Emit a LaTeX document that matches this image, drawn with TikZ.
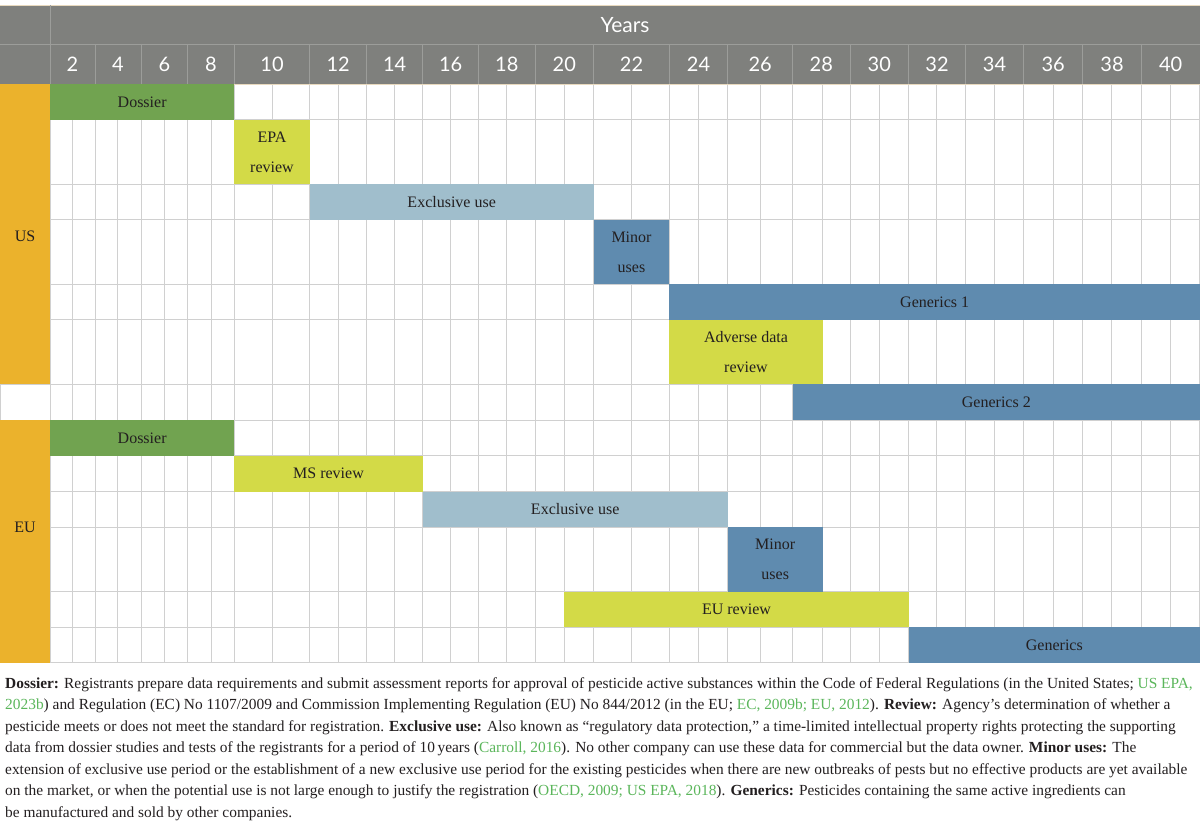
\documentclass[tikz,border=0pt]{standalone}
\usepackage{fontspec}
\setmainfont{Liberation Serif}
\newfontfamily\hdrfont{Lato}
\definecolor{hdr}{HTML}{7F807D}
\definecolor{hdrline}{HTML}{9C9D9A}
\definecolor{beige}{HTML}{E8D9BE}
\definecolor{gridc}{HTML}{D0D0D0}
\definecolor{dgreen}{HTML}{71A350}
\definecolor{ygreen}{HTML}{D3DA47}
\definecolor{lblue}{HTML}{A0BECC}
\definecolor{sblue}{HTML}{5F8BAF}
\definecolor{orng}{HTML}{EBB22C}
\definecolor{txt}{HTML}{231F20}
\definecolor{cite}{HTML}{5BB65B}
\newcommand\cit[1]{\textcolor{cite}{#1}}
\newcommand\gbar[7]{\node[bar, fill=#6, minimum width={(#4-#2)*1pt}, minimum height={(#5-#3)*1pt}] (#1) at ({(#2+#4)/2},{(#3+#5)/2}) {#7};}
\tikzset{
  bar/.style={inner sep=0pt, outer sep=0pt, align=center, text=txt, font=\rmfamily\fontsize{16}{29.5}\selectfont},
  hdrtxt/.style={inner sep=0pt, text=white, font=\hdrfont\fontsize{20}{24}\selectfont},
  foot/.style={anchor=base west, inner sep=0pt, text=txt, font=\rmfamily\fontsize{15.4}{18}\selectfont},
  side/.style={inner sep=0pt, text=txt, font=\rmfamily\fontsize{16}{20}\selectfont},
}
\begin{document}
\begin{tikzpicture}[x=1pt,y=-1pt]
\useasboundingbox (0,0) rectangle (1200,826);
\fill[white] (0,0) rectangle (1200,826);
% header
\fill[hdr] (0,5) rectangle (1200,84);
\draw[beige, line width=0.8pt] (0,5) -- (1200,5);
\draw[hdrline, line width=0.8pt] (0,44.3) -- (1200,44.3);
\draw[hdrline, line width=0.8pt] (50,5) -- (50,84);
\foreach \x in {95,141,187.7,234.3,309.7,366.7,422.7,478.7,535,593.7,669.3,727.7,792.7,850,908.7,965.3,1023.7,1082.7,1141.3}
  \draw[hdrline, line width=0.8pt] (\x,44.3) -- (\x,84);
\node[hdrtxt, font=\hdrfont\fontsize{21}{24}\selectfont] (years) at (625,25) {Years};
\foreach \n/\x in {2/72.5,4/118,6/164.3,8/211,10/272,12/338.2,14/394.7,16/450.7,18/506.8,20/564.3,22/631.5,24/698.5,26/760.2,28/821.3,30/879.3,32/937,34/994.5,36/1053.2,38/1112,40/1170.6}
  \node[hdrtxt] (y\n) at (\x,64.5) {\n};
% grid
\foreach \x in {50,72.7,95,117.7,141,164.3,187.7,211,234.3,272.3,309.7,338.3,366.7,394.7,422.7,450.3,478.7,506.7,535,564.3,593.7,631.3,669.3,698.7,727.7,760.3,792.7,822.7,850,879.3,908.7,936.7,965.3,994.7,1023.7,1053.3,1082.7,1111.7,1141.3,1170.7,1199.5}
  \draw[gridc, line width=1pt] (\x,84) -- (\x,662.7);
\foreach \y in {120,184.3,220,284.3,320,527.3,455.7,491.7,591.7,627.3,662.7}
  \draw[gridc, line width=1pt] (50,\y) -- (1200,\y);
\draw[gridc, line width=1pt] (0,384.3) -- (1200,384.3);
\draw[gridc, line width=1pt] (0,420) -- (1200,420);
\draw[gridc, line width=1pt] (0.5,384.3) -- (0.5,420);
\draw[beige, line width=0.8pt] (0,84) -- (1200,84);
% side columns
\fill[orng] (0,84) rectangle (50,384.3);
\fill[orng] (0,420) rectangle (50,662.7);
\node[side] (us) at (25,236) {US};
\node[side] (eu) at (25,527) {EU};
% bars
\gbar{usdos}{50}{84}{234.3}{120}{dgreen}{Dossier}
\gbar{epa}{234.3}{120}{309.7}{184.3}{ygreen}{EPA\\review}
\gbar{usexcl}{309.7}{184.3}{593.7}{220}{lblue}{Exclusive use}
\gbar{usminor}{593.7}{220}{669.3}{284.3}{sblue}{Minor\\uses}
\gbar{gen1}{669.3}{284.3}{1200}{320}{sblue}{Generics 1}
\gbar{adv}{669.3}{320}{822.7}{384.3}{ygreen}{Adverse data\\review}
\gbar{gen2}{792.7}{384.3}{1200}{420}{sblue}{Generics 2}
\gbar{eudos}{50}{420}{234.3}{455.7}{dgreen}{Dossier}
\gbar{ms}{234.3}{455.7}{422.7}{491.7}{ygreen}{MS review}
\gbar{euexcl}{422.7}{491.7}{727.7}{527.3}{lblue}{Exclusive use}
\gbar{euminor}{727.7}{527.3}{822.7}{591.7}{sblue}{Minor\\uses}
\gbar{eurev}{564.3}{591.7}{908.7}{627.3}{ygreen}{EU review}
\gbar{gen}{908.7}{627.3}{1200}{662.7}{sblue}{Generics}
% footer
\node[foot] (f1) at (5,688) {\textbf{Dossier:} Registrants prepare data requirements and submit assessment reports for approval of pesticide active substances within the Code of Federal Regulations (in the United States; \cit{US EPA,}};
\node[foot] (f2) at (5,709.5) {\cit{2023b}) and Regulation (EC) No 1107/2009 and Commission Implementing Regulation (EU) No 844/2012 (in the EU; \cit{EC, 2009b; EU, 2012}). \textbf{Review:} Agency’s determination of whether a};
\node[foot] (f3) at (5,731) {pesticide meets or does not meet the standard for registration. \textbf{Exclusive use:} Also known as “regulatory data protection,” a time-limited intellectual property rights protecting the supporting};
\node[foot] (f4) at (5,752.5) {data from dossier studies and tests of the registrants for a period of 10\,years (\cit{Carroll, 2016}). No other company can use these data for commercial but the data owner. \textbf{Minor uses:} The};
\node[foot] (f5) at (5,774) {extension of exclusive use period or the establishment of a new exclusive use period for the existing pesticides when there are new outbreaks of pests but no effective products are yet available};
\node[foot] (f6) at (5,795.5) {on the market, or when the potential use is not large enough to justify the registration (\cit{OECD, 2009; US EPA, 2018}). \textbf{Generics:} Pesticides containing the same active ingredients can};
\node[foot] (f7) at (5,817) {be manufactured and sold by other companies.};
\end{tikzpicture}
\end{document}
